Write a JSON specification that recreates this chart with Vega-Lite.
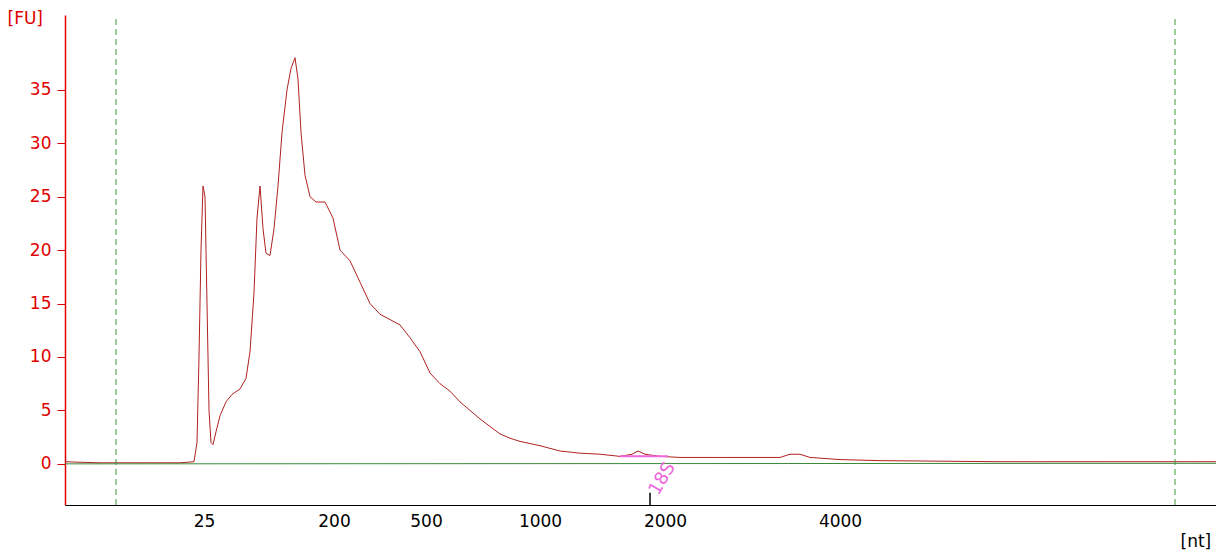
{
  "$schema": "https://vega.github.io/schema/vega-lite/v6.json",
  "width": 1151,
  "height": 490,
  "autosize": "none",
  "padding": {"left": 65, "top": 15, "right": 0, "bottom": 48},
  "background": "white",
  "config": {"view": {"stroke": null}, "font": "DejaVu Sans"},
  "datasets": {
    "trace": [
      {"t":65,"fu":0.2},{"t":80,"fu":0.15},{"t":100,"fu":0.1},{"t":116,"fu":0.1},{"t":180,"fu":0.1},{"t":194,"fu":0.2},{"t":197,"fu":2},{"t":199,"fu":10},{"t":201,"fu":20},{"t":203,"fu":26},{"t":205,"fu":25},{"t":207,"fu":15},{"t":209,"fu":5},{"t":211,"fu":2},{"t":213,"fu":1.8},{"t":216,"fu":3},{"t":220,"fu":4.5},{"t":226,"fu":5.8},{"t":232,"fu":6.5},{"t":240,"fu":7},{"t":246,"fu":8},{"t":250,"fu":10.5},{"t":254,"fu":16},{"t":257,"fu":23},{"t":260,"fu":26},{"t":263,"fu":22},{"t":266,"fu":19.7},{"t":270,"fu":19.5},{"t":274,"fu":22},{"t":278,"fu":26},{"t":282,"fu":31},{"t":287,"fu":35},{"t":291,"fu":37},{"t":295,"fu":38},{"t":298,"fu":36},{"t":301,"fu":31},{"t":305,"fu":27},{"t":310,"fu":25},{"t":316,"fu":24.5},{"t":325,"fu":24.5},{"t":333,"fu":23},{"t":340,"fu":20},{"t":350,"fu":19},{"t":360,"fu":17},{"t":370,"fu":15},{"t":380,"fu":14},{"t":400,"fu":13},{"t":410,"fu":11.8},{"t":420,"fu":10.5},{"t":430,"fu":8.5},{"t":440,"fu":7.5},{"t":450,"fu":6.8},{"t":460,"fu":5.8},{"t":470,"fu":5},{"t":480,"fu":4.2},{"t":490,"fu":3.5},{"t":500,"fu":2.8},{"t":510,"fu":2.4},{"t":520,"fu":2.1},{"t":540,"fu":1.7},{"t":560,"fu":1.2},{"t":580,"fu":1},{"t":600,"fu":0.9},{"t":620,"fu":0.7},{"t":632,"fu":0.9},{"t":638,"fu":1.2},{"t":645,"fu":0.9},{"t":660,"fu":0.7},{"t":680,"fu":0.6},{"t":700,"fu":0.6},{"t":780,"fu":0.6},{"t":790,"fu":0.9},{"t":800,"fu":0.9},{"t":810,"fu":0.6},{"t":840,"fu":0.4},{"t":880,"fu":0.3},{"t":1000,"fu":0.2},{"t":1100,"fu":0.2},{"t":1216,"fu":0.2}
    ],
    "baseline": [{"t":65,"fu":0},{"t":1216,"fu":0.05}],
    "markers": [{"t":116,"y1":-3.85,"y2":42},{"t":1175,"y1":-3.85,"y2":42}],
    "ladder": [{"t":620,"t2":668,"fu":0.7}],
    "label": [{"t":654,"fu":-2.8,"txt":"18S"}],
    "tick": [{"t":650,"fu":-3.85,"fu2":-2.7}]
  },
  "layer": [
    {
      "data": {"name": "trace"},
      "mark": {"type": "line", "color": "#b02020", "strokeWidth": 1, "interpolate": "linear"},
      "encoding": {
        "x": {"field": "t", "type": "quantitative", "scale": {"domain": [65, 1216], "nice": false, "zero": false},
          "axis": {"values": [204, 334, 426, 540, 665, 840], "labelExpr": "{'204':'25','334':'200','426':'500','540':'1000','665':'2000','840':'4000'}[datum.value + '']", "ticks": false, "grid": false, "domainColor": "black", "labelColor": "black", "labelFontSize": 17, "labelPadding": 8, "title": "[nt]", "titleFontWeight": "normal", "titleFontSize": 17, "titleColor": "black", "titleAnchor": "start", "titleAlign": "left", "titleX": 1115, "titleY": 28}},
        "y": {"field": "fu", "type": "quantitative", "scale": {"domain": [-3.85, 42], "nice": false, "zero": false},
          "axis": {"values": [0, 5, 10, 15, 20, 25, 30, 35], "grid": false, "domainColor": "#e00000", "domainWidth": 1.5, "tickColor": "#e00000", "tickSize": 8, "labelColor": "#e00000", "labelFontSize": 17, "labelPadding": 6, "title": "[FU]", "titleColor": "#e00000", "titleFontWeight": "normal", "titleFontSize": 17, "titleAngle": 0, "titleAlign": "left", "titleBaseline": "middle", "titleX": -58, "titleY": 3}}
      }
    },
    {
      "data": {"name": "markers"},
      "mark": {"type": "rule", "color": "#3a9a3a", "strokeDash": [6, 4], "strokeWidth": 1},
      "encoding": {"x": {"field": "t", "type": "quantitative"}, "y": {"field": "y1", "type": "quantitative"}, "y2": {"field": "y2"}}
    },
    {
      "data": {"name": "baseline"},
      "mark": {"type": "line", "color": "#3a8a3a", "strokeWidth": 1},
      "encoding": {"x": {"field": "t", "type": "quantitative"}, "y": {"field": "fu", "type": "quantitative"}}
    },
    {
      "data": {"name": "ladder"},
      "mark": {"type": "rule", "color": "#ee66dd", "strokeWidth": 2},
      "encoding": {"x": {"field": "t", "type": "quantitative"}, "x2": {"field": "t2"}, "y": {"field": "fu", "type": "quantitative"}}
    },
    {
      "data": {"name": "label"},
      "mark": {"type": "text", "color": "#ee66dd", "fontSize": 18, "angle": 300, "align": "left", "baseline": "middle"},
      "encoding": {"x": {"field": "t", "type": "quantitative"}, "y": {"field": "fu", "type": "quantitative"}, "text": {"field": "txt"}}
    },
    {
      "data": {"name": "tick"},
      "mark": {"type": "rule", "color": "black", "strokeWidth": 1.5},
      "encoding": {"x": {"field": "t", "type": "quantitative"}, "y": {"field": "fu", "type": "quantitative"}, "y2": {"field": "fu2"}}
    }
  ]
}
